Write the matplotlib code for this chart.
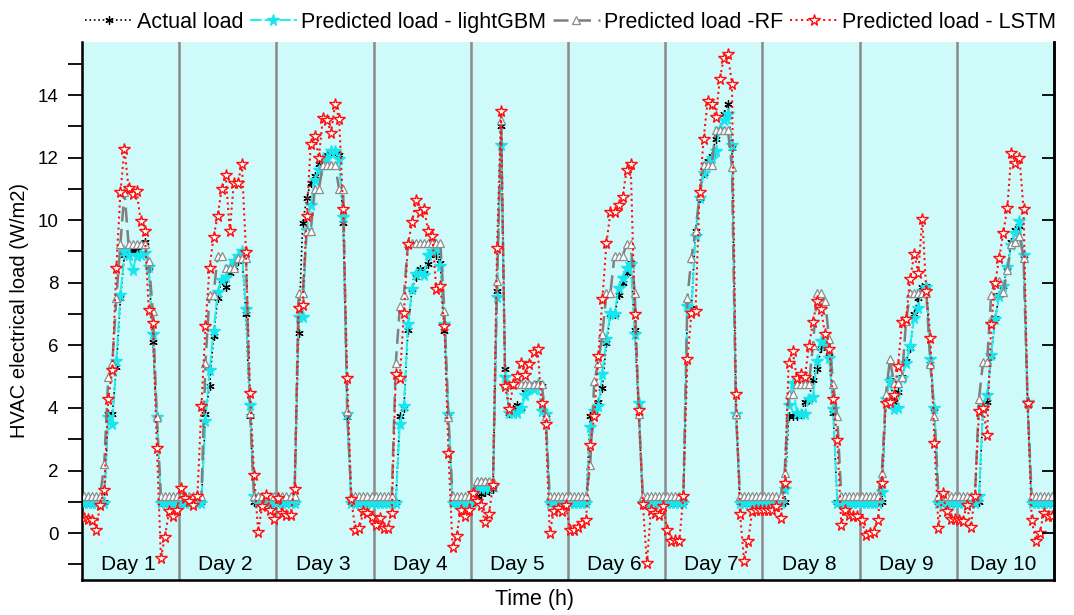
import matplotlib
matplotlib.use('Agg')
import numpy as np
import matplotlib.pyplot as plt

plt.rcParams['font.family'] = ['Liberation Sans', 'DejaVu Sans']

# ── Hourly HVAC load, 10 days x 24 h (W/m2) ─────────────────────
actual = [
    1.0, 1.0, 1.0, 1.0, 1.0, 1.0, 3.8, 3.8, 5.3, 7.5, 8.9, 9.0, 9.0, 9.05, 9.2, 9.3, 8.5, 6.1, 3.7, 1.0, 1.0, 1.0, 1.0, 1.0,
    1.0, 1.0, 1.0, 1.0, 1.0, 1.0, 3.8, 4.7, 6.3, 7.5, 8.1, 7.85, 8.3, 8.5, 8.7, 8.9, 7.0, 3.75, 1.0, 1.0, 1.0, 1.0, 1.0, 1.0,
    1.0, 1.0, 1.0, 1.0, 1.0, 6.4, 9.9, 10.7, 11.2, 11.4, 11.8, 12.0, 12.1, 12.2, 12.2, 12.1, 9.9, 3.7, 1.0, 1.0, 1.0, 1.0, 1.0, 1.0,
    1.0, 1.0, 1.0, 1.0, 1.0, 1.0, 3.73, 4.0, 6.5, 7.8, 8.2, 8.43, 8.32, 8.6, 8.96, 8.9, 8.64, 6.45, 3.73, 1.0, 1.0, 1.0, 1.0, 1.0,
    1.0, 1.2, 1.25, 1.3, 1.35, 1.4, 7.74, 13.0, 5.23, 3.84, 3.95, 4.1, 4.0, 4.5, 4.6, 4.7, 4.8, 4.7, 3.8, 1.0, 1.0, 1.0, 1.0, 1.0,
    1.0, 1.0, 1.0, 1.0, 1.0, 3.73, 3.8, 4.2, 4.64, 6.08, 6.99, 6.99, 7.6, 8.0, 8.3, 8.64, 6.5, 3.73, 1.0, 1.0, 1.0, 1.0, 1.0, 1.0,
    1.0, 1.0, 1.0, 1.0, 1.0, 7.36, 7.2, 9.66, 10.7, 11.5, 11.9, 12.05, 12.6, 12.9, 13.4, 13.71, 12.3, 3.8, 1.0, 1.0, 1.0, 1.0, 1.0, 1.0,
    1.0, 1.0, 1.0, 1.0, 1.0, 1.0, 3.73, 3.75, 3.75, 3.8, 4.2, 4.3, 4.9, 5.25, 5.9, 6.0, 5.65, 3.85, 1.0, 1.0, 1.0, 1.0, 1.0, 1.0,
    1.0, 1.0, 1.0, 1.0, 1.0, 1.0, 4.3, 4.9, 4.2, 4.5, 5.0, 5.5, 5.9, 7.0, 7.5, 7.85, 7.9, 5.4, 4.0, 1.0, 1.0, 1.0, 1.0, 1.0,
    1.0, 1.0, 1.0, 1.0, 1.0, 1.0, 4.0, 4.2, 5.65, 6.88, 7.6, 7.9, 8.5, 9.3, 9.7, 9.8, 8.9, 4.1, 1.0, 1.0, 1.0, 1.0, 1.0, 1.0,
]

lgbm = [
    0.97, 0.97, 0.97, 0.97, 0.97, 0.97, 3.7, 3.5, 5.5, 7.6, 9.0, 8.9, 8.4, 8.85, 8.9, 8.96, 8.5, 6.35, 3.7, 0.97, 0.97, 0.97, 0.97, 0.97,
    0.97, 0.97, 0.97, 0.97, 0.97, 0.97, 3.57, 5.2, 6.45, 7.7, 8.1, 8.2, 8.5, 8.7, 8.85, 9.0, 7.15, 4.1, 1.2, 0.97, 0.97, 0.97, 0.97, 0.97,
    0.97, 0.97, 0.97, 0.97, 0.97, 6.9, 6.9, 9.7, 10.5, 11.3, 11.6, 12.0, 12.0, 12.2, 12.2, 11.95, 10.1, 3.8, 0.97, 0.97, 0.97, 0.97, 0.97, 0.97,
    0.97, 0.97, 0.97, 0.97, 0.97, 0.97, 3.5, 4.05, 6.67, 7.79, 8.27, 8.32, 8.25, 8.9, 9.0, 9.1, 8.54, 6.67, 3.8, 0.97, 0.97, 0.97, 0.97, 0.97,
    1.0, 1.45, 1.45, 1.45, 1.45, 1.5, 7.55, 12.4, 5.0, 3.84, 3.84, 3.84, 4.0, 4.4, 4.6, 4.6, 4.75, 3.9, 3.8, 0.97, 0.97, 0.97, 0.97, 0.97,
    0.97, 0.97, 0.97, 0.97, 0.97, 3.4, 3.9, 4.05, 5.07, 6.19, 7.04, 6.99, 7.84, 8.16, 8.48, 8.6, 6.35, 4.16, 0.97, 0.97, 0.97, 0.97, 0.97, 0.97,
    0.97, 0.97, 0.97, 0.97, 0.97, 7.25, 7.1, 9.5, 10.7, 11.5, 11.8, 12.0, 12.2, 12.9, 13.2, 13.4, 12.4, 3.8, 0.97, 0.97, 0.97, 0.97, 0.97, 0.97,
    0.97, 0.97, 0.97, 0.97, 0.97, 1.4, 4.1, 4.8, 3.85, 3.8, 3.8, 4.27, 4.35, 5.5, 6.13, 6.0, 5.6, 3.95, 0.97, 0.97, 0.97, 0.97, 0.97, 0.97,
    0.97, 0.97, 0.97, 0.97, 0.97, 1.3, 4.3, 4.86, 3.95, 4.0, 4.96, 5.44, 5.97, 6.88, 7.2, 7.75, 7.85, 5.55, 4.0, 0.97, 0.97, 0.97, 0.97, 0.97,
    0.97, 0.97, 0.97, 0.97, 0.97, 1.2, 4.05, 4.4, 5.7, 6.83, 7.57, 7.9, 8.5, 9.2, 9.6, 9.97, 8.9, 4.2, 0.97, 0.97, 0.97, 0.97, 0.97, 0.97,
]

rf = [
    1.17, 1.17, 1.17, 1.17, 1.17, 2.2, 4.98, 5.44, 7.52, 9.25, 10.9, 9.25, 9.25, 9.25, 9.25, 9.25, 8.7, 7.1, 3.7, 1.17, 1.17, 1.17, 1.17, 1.17,
    1.17, 1.17, 1.17, 1.17, 1.17, 1.17, 5.44, 7.6, 7.6, 8.86, 8.86, 8.48, 8.48, 8.48, 8.8, 8.8, 8.8, 3.85, 1.17, 1.17, 1.17, 1.17, 1.17, 1.17,
    1.17, 1.17, 1.17, 1.17, 1.17, 7.68, 7.68, 9.66, 9.66, 11.0, 11.0, 11.76, 11.76, 11.76, 11.76, 11.0, 11.0, 3.9, 1.17, 1.17, 1.17, 1.17, 1.17, 1.17,
    1.17, 1.17, 1.17, 1.17, 1.17, 5.44, 7.25, 7.6, 9.27, 9.27, 9.27, 9.27, 9.27, 9.27, 9.27, 9.27, 9.27, 7.1, 3.7, 1.17, 1.17, 1.17, 1.17, 1.17,
    1.17, 1.68, 1.68, 1.68, 1.68, 1.68, 8.06, 13.2, 4.78, 4.78, 4.78, 4.78, 4.78, 4.78, 4.78, 4.78, 4.78, 4.78, 3.73, 1.17, 1.17, 1.17, 1.17, 1.17,
    1.17, 1.17, 1.17, 1.17, 1.17, 2.18, 4.86, 5.44, 6.35, 7.68, 7.68, 8.86, 8.86, 8.86, 9.23, 9.23, 7.68, 3.8, 1.17, 1.17, 1.17, 1.17, 1.17, 1.17,
    1.17, 1.17, 1.17, 1.17, 1.17, 7.52, 8.8, 9.66, 10.8, 11.76, 11.76, 11.76, 12.88, 12.88, 12.88, 12.88, 11.7, 3.8, 1.17, 1.17, 1.17, 1.17, 1.17, 1.17,
    1.17, 1.17, 1.17, 1.17, 1.17, 1.92, 4.43, 4.43, 4.75, 4.75, 4.75, 4.75, 6.0, 7.68, 7.68, 7.41, 6.2, 4.75, 3.73, 1.17, 1.17, 1.17, 1.17, 1.17,
    1.17, 1.17, 1.17, 1.17, 1.17, 1.92, 4.43, 5.55, 4.8, 4.8, 5.0, 6.78, 7.68, 7.68, 7.68, 7.68, 7.68, 5.39, 3.73, 1.17, 1.17, 1.17, 1.17, 1.17,
    1.17, 1.17, 1.17, 1.17, 1.17, 4.3, 5.46, 5.46, 7.6, 8.05, 8.05, 7.7, 8.4, 9.23, 9.3, 9.5, 8.8, 4.2, 1.17, 1.17, 1.17, 1.17, 1.17, 1.17,
]

lstm = [
    0.48, 0.45, 0.42, 0.11, 0.91, 1.39, 4.3, 5.2, 8.48, 10.9, 12.27, 11.04, 10.83, 10.94, 9.97, 9.65, 7.14, 6.72, 2.72, -0.8, -0.11, 0.69, 0.53, 0.75,
    1.44, 1.12, 1.01, 0.91, 1.17, 4.05, 6.61, 8.48, 9.47, 10.14, 10.99, 11.44, 9.66, 11.2, 11.2, 11.79, 8.98, 4.48, 1.87, 0.05, 0.85, 1.23, 0.75, 0.45,
    1.12, 0.64, 0.59, 0.59, 1.41, 7.2, 7.3, 10.14, 12.45, 12.7, 12.0, 13.28, 13.2, 12.8, 13.7, 13.25, 10.35, 4.96, 1.09, 0.11, 0.16, 0.69, 0.64, 0.5,
    0.27, 0.48, 0.16, 0.16, 0.64, 5.07, 4.96, 7.04, 9.23, 9.93, 10.65, 10.27, 10.35, 9.66, 9.5, 7.79, 7.9, 6.61, 2.56, -0.43, -0.09, 0.75, 0.53, 0.75,
    1.28, 1.01, 0.9, 0.34, 0.62, 1.54, 9.12, 13.5, 4.69, 3.95, 4.75, 5.01, 5.44, 5.04, 5.39, 5.78, 5.89, 4.16, 3.5, 0.0, 0.69, 0.8, 0.69, 0.9,
    0.11, 0.11, 0.21, 0.32, 0.43, 2.83, 3.73, 5.65, 7.47, 9.26, 10.26, 10.26, 10.48, 10.75, 11.61, 11.79, 6.99, 3.92, 0.94, -0.96, 0.75, 0.64, 0.59, 0.85,
    0.11, -0.26, -0.21, -0.26, 1.2, 5.55, 7.04, 7.1, 10.9, 12.6, 13.8, 13.7, 13.3, 14.5, 15.2, 15.3, 14.35, 4.43, 0.6, -0.9, -0.26, 0.69, 0.75, 0.75,
    0.75, 0.75, 0.75, 0.85, 0.48, 1.6, 5.44, 5.81, 4.96, 5.07, 5.0, 5.97, 6.74, 7.41, 7.15, 6.35, 5.87, 4.27, 2.99, 0.27, 0.75, 0.59, 0.53, 0.53,
    0.43, -0.05, 0.0, 0.05, 0.43, 1.6, 4.16, 4.2, 4.4, 5.35, 6.74, 6.85, 8.13, 8.91, 8.32, 10.03, 7.73, 6.24, 2.88, 0.16, 1.28, 0.69, 0.45, 0.45,
    0.43, 0.39, 0.91, 0.21, 1.2, 3.89, 4.0, 3.12, 6.67, 8.0, 8.8, 9.6, 10.4, 12.16, 11.84, 12.0, 10.35, 4.16, 0.43, -0.24, 0.0, 0.64, 0.53, 0.53,
]

day_labels = ['Day 1', 'Day 2', 'Day 3', 'Day 4', 'Day 5',
              'Day 6', 'Day 7', 'Day 8', 'Day 9', 'Day 10']
HOURS_PER_DAY = 24

hours = np.arange(1, len(actual) + 1)

# ── Figure ──────────────────────────────────────────────────────
fig = plt.figure(figsize=(10.74, 6.15), dpi=100)
ax = fig.add_axes([0.0763, 0.0569, 0.905, 0.875])
ax.set_facecolor('#cffafa')

for d in range(1, len(day_labels)):
    ax.axvline(d * HOURS_PER_DAY + 0.5, color='#8a8a8a', lw=1.8, zorder=1)

ax.plot(hours, actual, color='black', ls=':', lw=1.2,
        marker=(6, 2, 0), ms=6, mew=0.9, mec='black', zorder=3,
        label='Actual load')
ax.plot(hours, lgbm, color='#22eeee', ls=(0, (6, 1.5)), lw=1.4,
        marker='*', ms=8.5, mfc='#18e6ee', mec='#18e6ee', zorder=4,
        label='Predicted load - lightGBM')
ax.plot(hours, rf, color='#7f7f7f', ls=(0, (6, 3)), lw=1.8,
        marker='^', ms=6, mfc='white', mec='#8c8c8c', mew=0.9, zorder=5,
        label='Predicted load -RF')
ax.plot(hours, lstm, color='#ff1010', ls=':', lw=1.5,
        marker='*', ms=8.5, mfc='white', mec='#ff1010', mew=1.0, zorder=6,
        label='Predicted load - LSTM')

for i, lab in enumerate(day_labels):
    ax.text(i * HOURS_PER_DAY + 12.0, -1.0, lab, ha='center', va='center',
            fontsize=15, zorder=7)

ax.set_xlim(0.5, len(actual) + 0.5)
ax.set_ylim(-1.5, 15.7)
ax.set_yticks(np.arange(0, 15, 2))
ax.set_yticks(np.arange(-1, 16, 1), minor=True)
ax.set_xticks([])
ax.tick_params(axis='y', which='major', direction='out', length=10, width=1.3,
               pad=7, labelsize=13.5, right=False)
ax.tick_params(axis='y', which='minor', direction='out', length=10, width=1.3)

# inward major ticks on the right-hand edge
ax_r = ax.twinx()
ax_r.set_ylim(ax.get_ylim())
ax_r.set_yticks(np.arange(0, 15, 2))
ax_r.tick_params(axis='y', direction='in', length=9, width=1.3, labelright=False)
ax_r.spines['top'].set_visible(False)

for side in ['left', 'bottom', 'right']:
    ax.spines[side].set_linewidth(1.8)
ax.spines['top'].set_visible(False)
ax_r.spines['right'].set_linewidth(1.8)

ax.set_ylabel('HVAC electrical load (W/m2)', fontsize=14.5, labelpad=6)
ax.set_xlabel('Time (h)', fontsize=15.5)
ax.xaxis.set_label_coords(0.466, -0.016)

fig.legend(loc='upper center', bbox_to_anchor=(0.531, 1.012), ncol=4,
           frameon=False, fontsize=15.5, handlelength=2.2, handletextpad=0.2,
           columnspacing=0.3)

fig.savefig('out.png', dpi=100, facecolor='white')
